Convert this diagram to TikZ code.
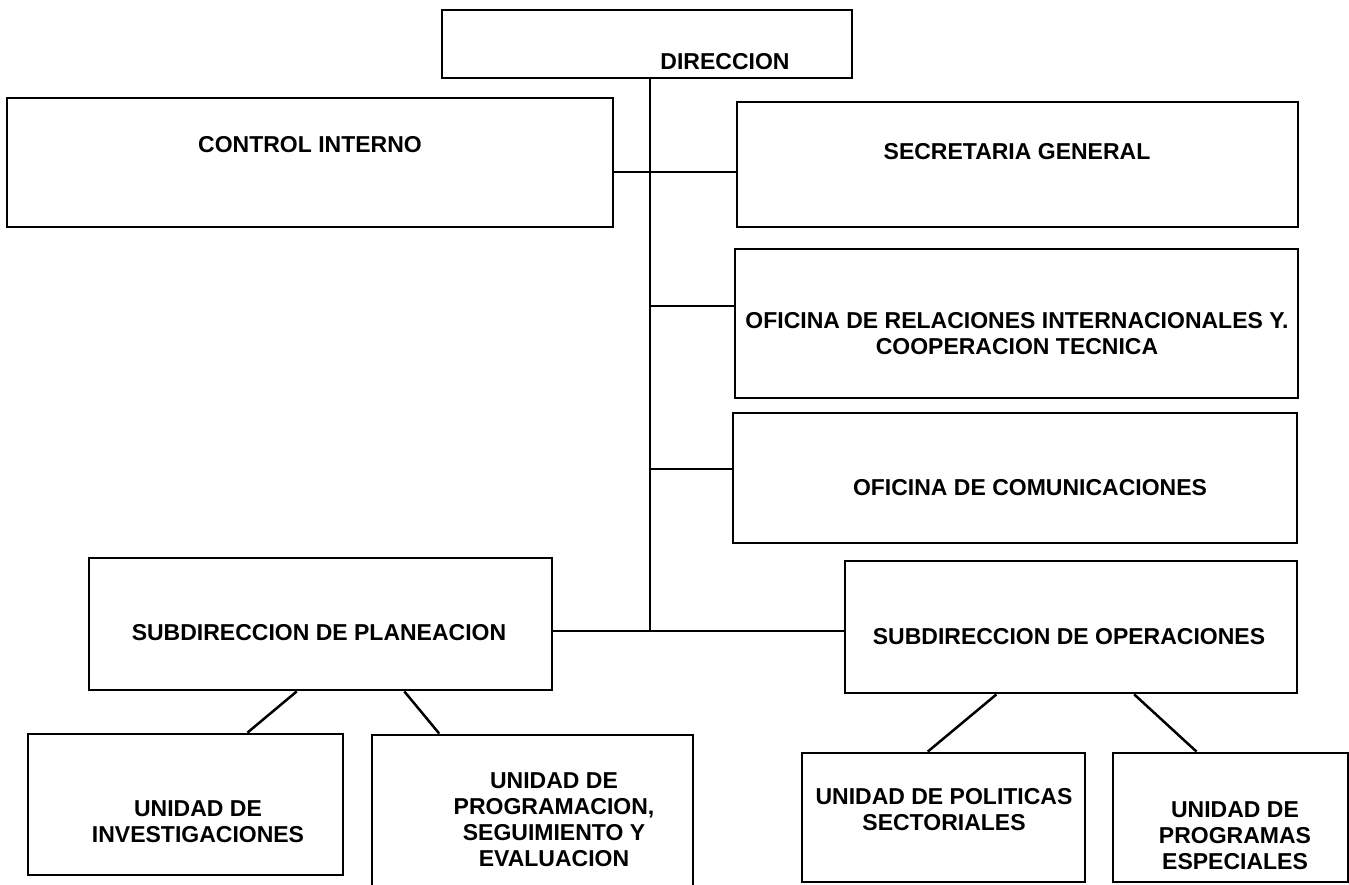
\documentclass[tikz,border=0pt]{standalone}
\usepackage{fontspec}
\setmainfont{Liberation Sans}
\usetikzlibrary{calc}
\begin{document}
\begin{tikzpicture}[x=1pt,y=-1pt,
  box/.style={draw, line width=2.8pt, rectangle, inner sep=0pt},
  lbl/.style={font=\fontsize{23}{26}\selectfont\bfseries, align=center, inner sep=0pt},
  con/.style={line width=2.5pt}]
\clip (0,0) rectangle (1349,884);
\fill[white] (0,0) rectangle (1349,884);
% boxes
\node[box, minimum width=410pt, minimum height=68pt]  (dir) at (647,44) {};
\node[box, minimum width=606pt, minimum height=129pt] (ci)  at (310,162.5) {};
\node[box, minimum width=561pt, minimum height=125pt] (sg)  at (1017.5,164.5) {};
\node[box, minimum width=563pt, minimum height=149pt] (ori) at (1016.5,323.5) {};
\node[box, minimum width=564pt, minimum height=130pt] (oc)  at (1015,478) {};
\node[box, minimum width=463pt, minimum height=132pt] (sp)  at (320.5,624) {};
\node[box, minimum width=452pt, minimum height=132pt] (so)  at (1071,627) {};
\node[box, minimum width=315pt, minimum height=141pt] (ui)  at (185.5,804.5) {};
\node[box, minimum width=321pt, minimum height=165pt] (up)  at (532.5,817.5) {};
\node[box, minimum width=283pt, minimum height=129pt] (upo) at (943.5,817.5) {};
\node[box, minimum width=235pt, minimum height=129pt] (upe) at (1230.5,817.5) {};
% labels
\node[lbl] (tdir) at (725,62) {DIRECCION};
\node[lbl] (tci)  at (310,145) {CONTROL INTERNO};
\node[lbl] (tsg)  at (1017,152) {SECRETARIA GENERAL};
\node[lbl] (tori) at (1017,333.5) {OFICINA DE RELACIONES INTERNACIONALES Y.\\COOPERACION TECNICA};
\node[lbl] (toc)  at (1030,488) {OFICINA DE COMUNICACIONES};
\node[lbl] (tsp)  at (319,633) {SUBDIRECCION DE PLANEACION};
\node[lbl] (tso)  at (1069,637) {SUBDIRECCION DE OPERACIONES};
\node[lbl] (tui)  at (198,821.5) {UNIDAD DE\\INVESTIGACIONES};
\node[lbl] (tup)  at (554,820) {UNIDAD DE\\PROGRAMACION,\\SEGUIMIENTO Y\\EVALUACION};
\node[lbl] (tupo) at (944,810) {UNIDAD DE POLITICAS\\SECTORIALES};
\node[lbl] (tupe) at (1235,836) {UNIDAD DE\\PROGRAMAS\\ESPECIALES};
% connectors
\coordinate (t) at (650,631);
\draw[con] (dir.south -| t) -- (t);
\coordinate (h1) at (0,172);
\draw[con] (ci.east |- h1) -- (sg.west |- h1);
\coordinate (h2) at (0,306);
\draw[con] (t |- h2) -- (ori.west |- h2);
\coordinate (h3) at (0,469);
\draw[con] (t |- h3) -- (oc.west |- h3);
\draw[con] (sp.east |- t) -- (so.west |- t);
\draw[con] ($(sp.south west)!0.449!(sp.south east)$) -- ($(ui.north west)!0.695!(ui.north east)$);
\draw[con] ($(sp.south west)!0.680!(sp.south east)$) -- ($(up.north west)!0.212!(up.north east)$);
\draw[con] ($(so.south west)!0.336!(so.south east)$) -- ($(upo.north west)!0.445!(upo.north east)$);
\draw[con] ($(so.south west)!0.639!(so.south east)$) -- ($(upe.north west)!0.357!(upe.north east)$);
\end{tikzpicture}
\end{document}
